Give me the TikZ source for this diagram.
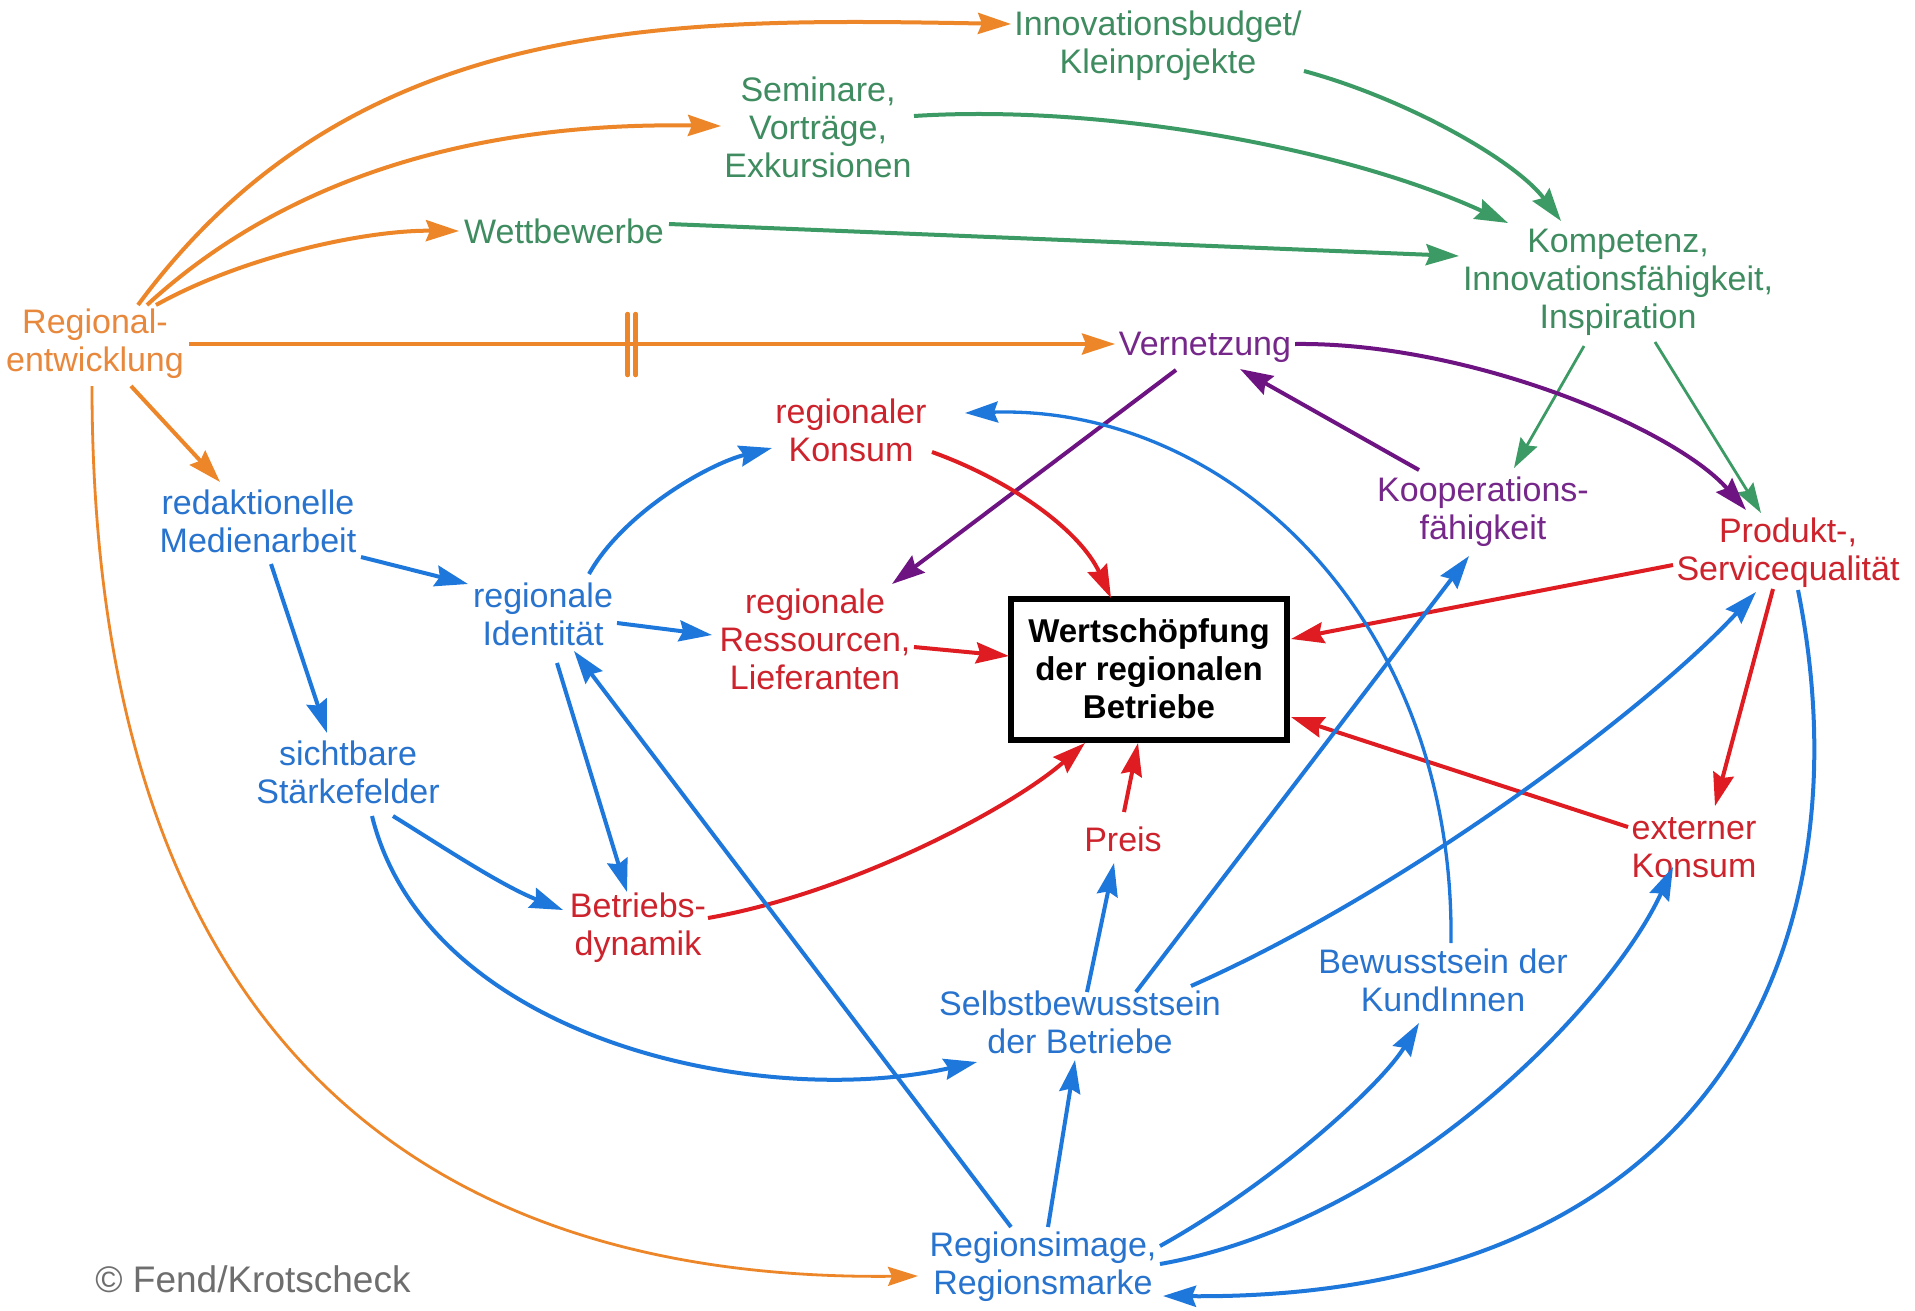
\documentclass[tikz,border=0pt]{standalone}
\usepackage{fontspec}
\setmainfont{Liberation Sans}
\usetikzlibrary{arrows.meta,calc}
\definecolor{cOr}{RGB}{236,134,40}
\definecolor{cOrT}{RGB}{232,136,60}
\definecolor{cGr}{RGB}{60,155,100}
\definecolor{cGrT}{RGB}{62,140,96}
\definecolor{cBl}{RGB}{30,120,220}
\definecolor{cBlT}{RGB}{40,115,205}
\definecolor{cRd}{RGB}{222,28,33}
\definecolor{cRdT}{RGB}{205,35,45}
\definecolor{cPu}{RGB}{110,20,130}
\definecolor{cPuT}{RGB}{118,40,138}
\definecolor{cGy}{RGB}{110,110,110}
\begin{document}
\begin{tikzpicture}[x=1pt,y=-1pt,
  lbl/.style={align=center, inner sep=0pt, font=\fontsize{34}{38}\selectfont},
  arr/.style={-{Stealth[length=33pt,width=21pt,inset=4pt]}, line width=4pt},
  tarr/.style={-{Stealth[length=30pt,width=19pt,inset=4pt]}, line width=2.8pt},
  keybox/.style={draw, line width=6pt, minimum width=276pt, minimum height=141pt,
    align=center, inner sep=0pt, font=\fontsize{33}{38}\selectfont\bfseries}]
\fill[white] (0,0) rectangle (1915,1310);
\useasboundingbox (0,0) rectangle (1915,1310);
% nodes
\node[lbl, text=cOrT] (reg) at (95,344) {Regional-\\entwicklung};
\node[lbl, text=cGrT] (inno) at (1158,46) {Innovationsbudget/\\Kleinprojekte};
\node[lbl, text=cGrT] (sem) at (818,127) {Seminare,\\Vorträge,\\Exkursionen};
\node[lbl, text=cGrT] (wett) at (564,231) {Wettbewerbe};
\node[lbl, text=cGrT] (komp) at (1618,282) {Kompetenz,\\Innovationsfähigkeit,\\Inspiration};
\node[lbl, text=cPuT] (vern) at (1205,347) {Vernetzung};
\node[lbl, text=cRdT] (rkons) at (851,430) {regionaler\\Konsum};
\node[lbl, text=cPuT] (koop) at (1483,512) {Kooperations-\\fähigkeit};
\node[lbl, text=cRdT] (prod) at (1788,553) {Produkt-,\\Servicequalität};
\node[lbl, text=cBlT] (medien) at (258,521) {redaktionelle\\Medienarbeit};
\node[lbl, text=cBlT] (ident) at (543,614) {regionale\\Identität};
\node[lbl, text=cRdT] (ress) at (815,639) {regionale\\Ressourcen,\\Lieferanten};
\node[keybox] (box) at (1149,669) {Wertschöpfung\\der regionalen\\Betriebe};
\node[lbl, text=cBlT] (staerk) at (348,772) {sichtbare\\Stärkefelder};
\node[lbl, text=cRdT] (betr) at (638,928) {Betriebs-\\dynamik};
\node[lbl, text=cRdT] (preis) at (1123,839) {Preis};
\node[lbl, text=cRdT] (extern) at (1694,848) {externer\\Konsum};
\node[lbl, text=cBlT] (selbst) at (1080,1022) {Selbstbewusstsein\\der Betriebe};
\node[lbl, text=cBlT] (kund) at (1443,980) {Bewusstsein der\\KundInnen};
\node[lbl, text=cBlT] (image) at (1043,1267) {Regionsimage,\\Regionsmarke};
\node[lbl, text=cGy, font=\fontsize{37}{40}\selectfont] (copy) at (253,1279) {© Fend/Krotscheck};
% orange
\draw[arr, cOr] ($(reg)+(43,-39)$) .. controls (354,12) and (672,18) .. ($(inno)+(-147,-22)$);
\draw[arr, cOr] ($(reg)+(52,-39)$) .. controls (293,171) and (489,122) .. ($(sem)+(-97,-1)$);
\draw[arr, cOr] ($(reg)+(61,-39)$) .. controls (244,256) and (366,230) .. ($(wett)+(-105,0)$);
\draw[arr, cOr] ($(reg)+(94,0)$) -- coordinate[pos=0.478] (delay) ($(vern)+(-90,-3)$);
\draw[cOr, line width=4.5pt, line cap=round] ($(delay)+(-4,-30)$) -- ($(delay)+(-4,31)$);
\draw[cOr, line width=4.5pt, line cap=round] ($(delay)+(4,-30)$) -- ($(delay)+(4,31)$);
\draw[arr, cOr] ($(reg)+(36,42)$) -- ($(medien)+(-38,-39)$);
\draw[tarr, cOr] ($(reg)+(-3,42)$) .. controls (92,977) and (366,1282) .. ($(image)+(-125,9)$);
% green
\draw[arr, cGr] ($(inno)+(146,25)$) .. controls (1404,98) and (1514,159) .. ($(komp)+(-57,-61)$);
\draw[arr, cGr] ($(sem)+(96,-11)$) .. controls (1099,104) and (1343,147) .. ($(komp)+(-110,-59)$);
\draw[arr, cGr] ($(wett)+(105,-7)$) -- ($(komp)+(-159,-26)$);
\draw[tarr, cGr] ($(komp)+(-34,64)$) -- ($(koop)+(31,-44)$);
\draw[tarr, cGr] ($(komp)+(37,60)$) -- ($(prod)+(-27,-40)$);
% purple
\draw[arr, cPu] ($(vern)+(-29,23)$) -- ($(ress)+(77,-55)$);
\draw[arr, cPu] ($(koop)+(-64,-42)$) -- ($(vern)+(35,22)$);
\draw[arr, cPu] ($(vern)+(90,-3)$) .. controls (1466,342) and (1673,427) .. ($(prod)+(-42,-43)$);
% red
\draw[arr, cRd] ($(rkons)+(81,22)$) .. controls (1010,480) and (1080,530) .. ($(box)+(-38,-71)$);
\draw[arr, cRd] ($(ress)+(99,8)$) -- ($(box)+(-140,-13)$);
\draw[arr, cRd] ($(prod)+(-115,12)$) -- ($(box)+(142,-30)$);
\draw[arr, cRd] ($(extern)+(-66,-21)$) -- ($(box)+(142,48)$);
\draw[arr, cRd] ($(prod)+(-15,36)$) -- ($(extern)+(21,-42)$);
\draw[arr, cRd] ($(betr)+(70,-10)$) .. controls (855,892) and (1014,806) .. ($(box)+(-64,74)$);
\draw[arr, cRd] ($(preis)+(1,-27)$) -- ($(box)+(-11,74)$);
% blue
\draw[arr, cBl] ($(medien)+(103,36)$) -- ($(ident)+(-75,-30)$);
\draw[arr, cBl] ($(medien)+(13,43)$) -- ($(staerk)+(-21,-39)$);
\draw[arr, cBl] ($(ident)+(46,-40)$) .. controls (623,513) and (708,464) .. ($(rkons)+(-79,18)$);
\draw[arr, cBl] ($(ident)+(74,9)$) -- ($(ress)+(-103,-4)$);
\draw[arr, cBl] ($(ident)+(14,49)$) -- ($(betr)+(-11,-36)$);
\draw[arr, cBl] ($(staerk)+(45,44)$) .. controls (440,845) and (500,885) .. ($(betr)+(-75,-18)$);
\draw[arr, cBl] ($(staerk)+(24,44)$) .. controls (427,1038) and (757,1111) .. ($(selbst)+(-103,40)$);
\draw[arr, cBl] ($(image)+(-32,-40)$) -- ($(ident)+(31,37)$);
\draw[arr, cBl] ($(image)+(5,-40)$) -- ($(selbst)+(-5,38)$);
\draw[arr, cBl] ($(selbst)+(7,-30)$) -- ($(preis)+(-9,24)$);
\draw[arr, cBl] ($(selbst)+(56,-30)$) -- ($(koop)+(-14,44)$);
\draw[arr, cBl] ($(selbst)+(111,-36)$) .. controls (1404,892) and (1649,708) .. ($(prod)+(-32,39)$);
\draw[arr, cBl, line width=3.3pt] ($(kund)+(8,-37)$) .. controls (1455,620) and (1230,405) .. ($(rkons)+(114,-17)$);
\draw[arr, cBl] ($(image)+(117,-21)$) .. controls (1270,1185) and (1380,1087) .. ($(kund)+(-24,43)$);
\draw[arr, cBl] ($(image)+(117,-3)$) .. controls (1404,1221) and (1612,1001) .. ($(extern)+(-21,19)$);
\draw[arr, cBl] ($(prod)+(10,37)$) .. controls (1870,950) and (1710,1300) .. ($(image)+(120,29)$);
\end{tikzpicture}
\end{document}
